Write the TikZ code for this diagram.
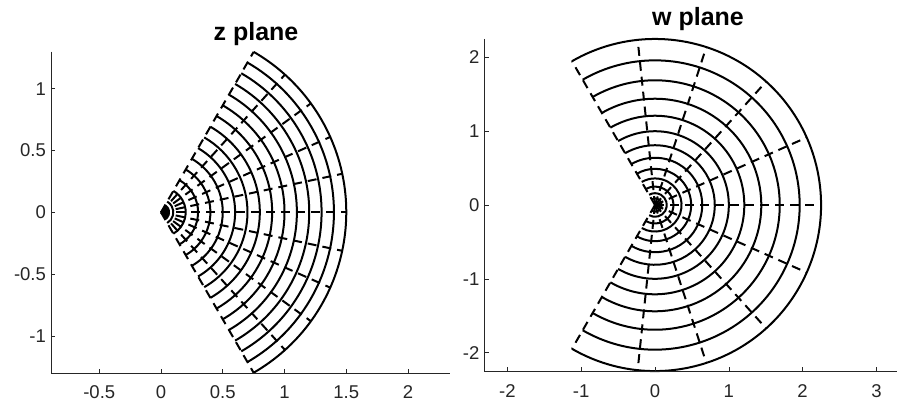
\documentclass[tikz,border=0pt]{standalone}
\usepackage{fontspec}
\setmainfont{Liberation Sans}
\definecolor{axisgray}{HTML}{262626}

\begin{document}
\begin{tikzpicture}[
      x=1pt, y=1pt,
      axisline/.style={draw=axisgray, line width=0.6pt},
      gridarc/.style={line width=2pt},
      gridray/.style={line width=2pt, dash pattern=on 9pt off 6pt},
      ticklabel/.style={text=axisgray, inner sep=0pt,
                        font=\fontsize{18.5}{22}\selectfont},
      plottitle/.style={inner sep=0pt, anchor=base,
                        font=\fontsize{25}{30}\selectfont\bfseries}
    ]
    \useasboundingbox (0,0) rectangle (902,402);

    % z plane
    \begin{scope}[shift={(161,189.7)}, x=123.5pt, y=123.5pt]
      \foreach \k in {1,...,15} {
        \pgfmathsetmacro\r{\k/10}
        \draw[gridarc] (-60:\r) arc[start angle=-60, end angle=60, radius=\r];
      }
      \foreach \a in {-60,-48,...,60}
        \draw[gridray] (0,0) -- (\a:1.5);
      \draw[axisline] (-0.89,1.3) -- (-0.89,-1.3) -- (2.34,-1.3);
      \foreach \t [count=\i] in {-0.5,0,0.5,1,1.5,2} {
        \draw[axisline] (\t,-1.3) -- ++(0,4pt);
        \node[ticklabel, anchor=base, yshift=-25.5pt] (zxlab\i) at (\t,-1.3) {\t};
      }
      \foreach \t [count=\i] in {-1,-0.5,0,0.5,1} {
        \draw[axisline] (-0.89,\t) -- ++(4pt,0);
        \node[ticklabel, anchor=east, xshift=-5pt] (zylab\i) at (-0.89,\t) {\t};
      }
    \end{scope}
    \node[plottitle] (ztitle) at (256,361.3) {z plane};

    % w plane
    \begin{scope}[shift={(655,197)}, x=73.8pt, y=73.8pt]
      \foreach \k in {1,...,15} {
        \pgfmathsetmacro\r{(\k/10)^2}
        \draw[gridarc] (-120:\r) arc[start angle=-120, end angle=120, radius=\r];
      }
      \foreach \a in {-120,-96,...,120}
        \draw[gridray] (0,0) -- (\a:2.25);
      \draw[axisline] (-2.31,2.25) -- (-2.31,-2.25) -- (3.28,-2.25);
      \foreach \t [count=\i] in {-2,-1,0,1,2,3} {
        \draw[axisline] (\t,-2.25) -- ++(0,4pt);
        \node[ticklabel, anchor=base, yshift=-26pt] (wxlab\i) at (\t,-2.25) {\t};
      }
      \foreach \t [count=\i] in {-2,-1,0,1,2} {
        \draw[axisline] (-2.31,\t) -- ++(4pt,0);
        \node[ticklabel, anchor=east, xshift=-5pt] (wylab\i) at (-2.31,\t) {\t};
      }
    \end{scope}
    \node[plottitle] (wtitle) at (698,376) {w plane};
  \end{tikzpicture}
\end{document}
